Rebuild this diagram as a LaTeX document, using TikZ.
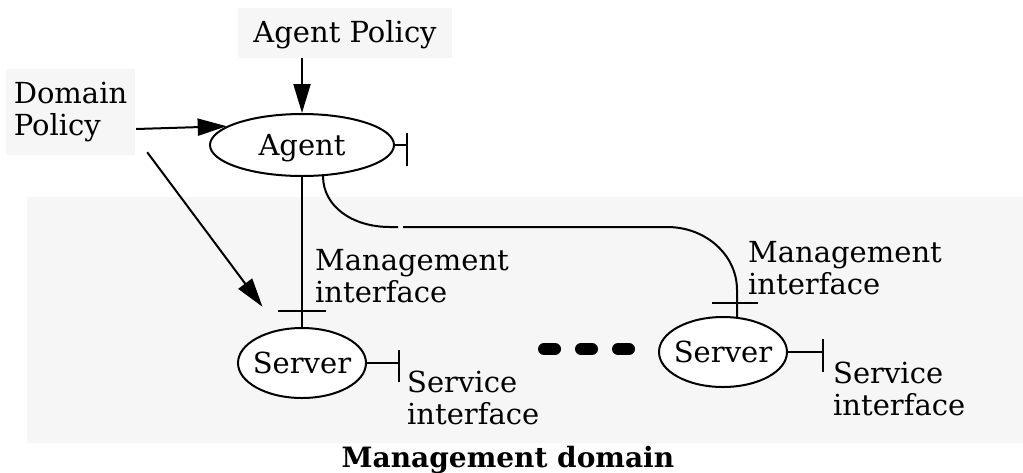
\documentclass[tikz,border=0pt]{standalone}
\usepackage{fontspec}
\setmainfont{DejaVu Serif}
\usetikzlibrary{arrows.meta,calc,shapes.geometric}
\definecolor{panel}{RGB}{246,246,246}
\begin{document}
\begin{tikzpicture}[x=1pt,y=-1pt,
  every node/.style={font=\fontsize{29}{32}\selectfont, inner sep=0pt},
  wire/.style={line width=2pt},
  arrow/.style={wire,-{Triangle[length=29pt,width=17pt]}},
  proc/.style={draw, ellipse, line width=2pt, fill=white, inner sep=-20pt, text depth=0pt},
  policy/.style={fill=panel, align=left},
  lbl/.style={align=left, anchor=base west},
  dots/.style={line width=12pt, line cap=round}]
\useasboundingbox (0,0) rectangle (1023,472);

% management domain background
\fill[panel] (27,197) rectangle (1023,443);

% policies
\node[policy, minimum width=214pt, minimum height=50pt, text depth=4pt] (ap) at (345,33) {Agent Policy};
\node[policy, minimum width=129pt, minimum height=86pt] (dp) at (70.5,112) {Domain\\Policy};

% agent and servers
\node[proc, minimum width=184pt, minimum height=62pt] (agent) at (302,145) {Agent};
\node[proc, minimum width=128pt, minimum height=70pt] (srv1) at (302,363) {Server};
\node[proc, minimum width=128pt, minimum height=70pt] (srv2) at (723,352) {Server};

% policy arrows
\draw[arrow] (ap.south -| agent.north) -- (agent.north);
\draw[arrow] ($(dp.east)+(1,17)$) -- (agent.166);
\draw[arrow, shorten >=28pt] ($(dp.south east)+(12,-3)$) -- (srv1.124);

% management link to the first server
\draw[wire] (agent.south) -- (srv1.north);
\draw[wire] ($(srv1.north)+(-24,-16)$) -- ++(48,0);

% management link to the second server
\coordinate (bendA) at (390,227);
\coordinate (gapL) at (398,227);
\coordinate (gapR) at (403,227);
\coordinate (bendB) at (667,227);
\coordinate (dropB) at (737,290);
\draw[wire] (agent.304) .. controls +(0,30) and +(-38,0) .. (bendA) -- (gapL);
\draw[wire] (gapR) -- (bendB) .. controls +(39,0) and +(0,-35) .. (dropB) -- (srv2.68);
\draw[wire] ($(srv2.68)+(-25,-14)$) -- ++(46,0);

% service interfaces
\draw[wire] (agent.east) -- ++(12,0) coordinate (agtip);
\draw[wire] ($(agtip)+(0,-12)$) -- ++(0,33);
\draw[wire] (srv1.east) -- ++(32,0) coordinate (s1tip);
\draw[wire] ($(s1tip)+(0,-13)$) -- ++(0,32);
\draw[wire] (srv2.east) -- ++(35,0) coordinate (s2tip);
\draw[wire] ($(s2tip)+(0,-13)$) -- ++(0,33);

% ellipsis between the servers
\foreach \x in {544,581,618} \draw[dots] (\x,349) -- ++(11,0);

% labels (base anchor sits on the last line)
\node[lbl] (mi1) at (315,302) {Management\\interface};
\node[lbl] (mi2) at (748,294) {Management\\interface};
\node[lbl] (si1) at (407,424) {Service\\interface};
\node[lbl] (si2) at (833,415) {Service\\interface};
\node[font=\fontsize{28}{32}\selectfont\bfseries, anchor=base] (dom) at (508,467) {Management domain};
\end{tikzpicture}
\end{document}
